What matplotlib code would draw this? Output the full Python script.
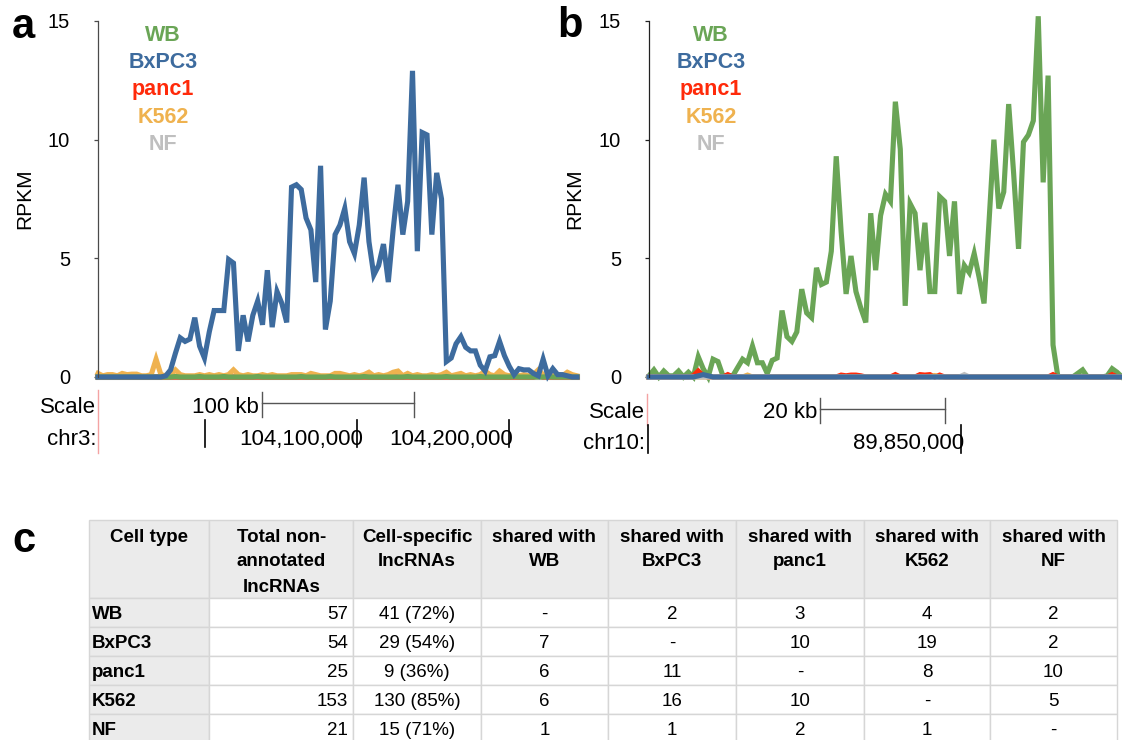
import matplotlib
matplotlib.use("Agg")
import matplotlib.pyplot as plt
from matplotlib.patches import Rectangle

plt.rcParams['font.family'] = ['Liberation Sans', 'DejaVu Sans']

W, H = 1122, 740

cell_lines = ['WB', 'BxPC3', 'panc1', 'K562', 'NF']
line_colors = {'WB': '#6aa556', 'BxPC3': '#3d6b9e', 'panc1': '#ff2a0a',
               'K562': '#efb24f', 'NF': '#bfbfbf'}
yticks = [0, 5, 10, 15]

# panel a: chr3 locus, RPKM per bin
bxpc3_a = [0, 0, 0, 0, 0, 0, 0, 0, 0, 0,
           0, 0, 0, 0, 0.05, 0.3, 1.0, 1.65, 1.5, 1.6,
           2.5, 1.3, 0.8, 1.9, 2.8, 2.8, 2.8, 4.95, 4.8, 1.1,
           2.6, 1.5, 2.6, 3.2, 2.2, 4.5, 2.1, 3.6, 3.1, 2.3,
           8.0, 8.1, 7.9, 6.7, 6.2, 4.0, 8.9, 2.0, 3.2, 6.0,
           6.4, 7.1, 5.7, 5.2, 6.4, 8.4, 5.7, 4.3, 4.7, 5.6,
           4.0, 6.2, 8.1, 6.0, 7.4, 12.9, 5.3, 10.3, 10.2, 6.0,
           8.6, 7.5, 0.65, 0.8, 1.4, 1.7, 1.25, 1.1, 1.1, 0.5,
           0.25, 0.85, 0.9, 1.5, 0.9, 0.45, 0.1, 0.35, 0.3, 0.3,
           0.15, 0.05, 0.75, 0.05, 0.35, 0.1, 0.1, 0.05, 0.0, 0.0]
k562_a = [0.15, 0.05, 0.1, 0.1, 0.05, 0.15, 0.1, 0.12, 0.12, 0.05,
          0.05, 0.1, 0.75, 0.1, 0.05, 0.1, 0.3, 0.1, 0.05, 0.05,
          0.05, 0.1, 0.05, 0.1, 0.05, 0.1, 0.05, 0.1, 0.3, 0.1,
          0.05, 0.1, 0.05, 0.05, 0.1, 0.05, 0.1, 0.05, 0.05, 0.05,
          0.1, 0.1, 0.1, 0.05, 0.15, 0.1, 0.05, 0.05, 0.05, 0.15,
          0.15, 0.1, 0.05, 0.1, 0.05, 0.1, 0.2, 0.05, 0.1, 0.05,
          0.1, 0.2, 0.25, 0.05, 0.15, 0.05, 0.1, 0.05, 0.05, 0.1,
          0.05, 0.1, 0.2, 0.05, 0.1, 0.15, 0.05, 0.1, 0.05, 0.1,
          0.25, 0.1, 0.05, 0.25, 0.1, 0.05, 0.1, 0.05, 0.1, 0.05,
          0.1, 0.3, 0.1, 0.05, 0.05, 0.1, 0.05, 0.2, 0.1, 0.05]
wb_a = [0, 0, 0, 0, 0, 0, 0, 0, 0, 0,
        0, 0, 0, 0, 0, 0, 0.02, 0, 0, 0,
        0, 0.02, 0, 0, 0, 0, 0.02, 0, 0, 0,
        0, 0, 0, 0.02, 0, 0, 0, 0, 0, 0,
        0, 0, 0.02, 0, 0, 0, 0, 0, 0.02, 0,
        0, 0, 0, 0, 0, 0.02, 0, 0, 0, 0,
        0, 0, 0, 0, 0.02, 0, 0, 0, 0, 0,
        0, 0, 0.02, 0, 0, 0, 0, 0, 0, 0.02,
        0, 0, 0, 0, 0, 0, 0.02, 0, 0, 0,
        0, 0, 0, 0.02, 0, 0, 0, 0, 0, 0]
panc1_a = [0, 0, 0, 0, 0, 0, 0, 0, 0, 0,
           0, 0, 0, 0, 0, 0, 0, 0, 0, 0,
           0, 0, 0, 0, 0, 0, 0, 0, 0, 0,
           0, 0, 0, 0, 0, 0, 0, 0, 0, 0,
           0, 0, 0, 0, 0, 0, 0, 0, 0, 0,
           0, 0, 0, 0, 0, 0, 0, 0, 0, 0,
           0, 0, 0, 0, 0, 0, 0, 0, 0, 0,
           0, 0, 0, 0, 0, 0, 0, 0, 0, 0,
           0, 0, 0, 0, 0, 0, 0, 0, 0, 0,
           0, 0.05, 0, 0, 0, 0, 0, 0, 0, 0]
nf_a = [0, 0, 0, 0, 0, 0, 0, 0, 0, 0,
        0, 0, 0, 0, 0, 0, 0, 0, 0, 0,
        0, 0, 0, 0, 0, 0, 0, 0, 0, 0,
        0, 0, 0, 0, 0, 0, 0, 0, 0, 0,
        0, 0, 0, 0, 0, 0, 0, 0, 0, 0,
        0, 0, 0, 0, 0, 0, 0, 0, 0, 0,
        0, 0, 0, 0, 0, 0, 0, 0, 0, 0,
        0, 0, 0, 0, 0, 0, 0, 0, 0, 0,
        0, 0, 0, 0, 0, 0, 0, 0, 0, 0,
        0, 0, 0, 0, 0, 0, 0, 0, 0, 0]

# panel b: chr10 locus
wb_b = [0.05, 0.3, 0.0, 0.25, 0.05, 0.05, 0.25, 0.0, 0.2, 0.0,
        0.85, 0.35, 0.0, 0.75, 0.65, 0.05, 0.05, 0.05, 0.4, 0.75,
        0.6, 1.3, 0.6, 0.6, 0.15, 0.7, 0.8, 2.8, 1.7, 1.5,
        1.9, 3.7, 2.7, 2.5, 4.6, 3.9, 4.0, 5.3, 9.3, 6.1,
        3.5, 5.1, 3.6, 2.9, 2.3, 6.9, 4.5, 6.8, 7.7, 7.4,
        11.6, 9.6, 3.0, 7.3, 6.9, 4.5, 6.5, 3.6, 3.6, 7.6,
        7.4, 5.1, 7.4, 3.5, 4.7, 4.4, 5.2, 4.2, 3.1, 6.5,
        10.0, 7.1, 7.8, 11.5, 8.6, 5.4, 9.9, 10.2, 10.8, 15.2,
        8.2, 12.7, 1.35, 0.0, 0.0, 0.0, 0.0, 0.15, 0.3, 0.0,
        0.0, 0.0, 0.0, 0.05, 0.35, 0.2, 0.0]
panc1_b = [0, 0, 0, 0, 0, 0, 0, 0, 0, 0.05,
           0.25, 0.05, 0, 0, 0, 0, 0.1, 0, 0, 0,
           0, 0, 0, 0, 0, 0, 0, 0, 0, 0,
           0, 0, 0, 0, 0, 0, 0, 0, 0, 0.08,
           0.05, 0.08, 0.08, 0.05, 0, 0, 0, 0, 0, 0,
           0.1, 0, 0, 0, 0, 0.1, 0.08, 0.1, 0, 0.08,
           0, 0, 0, 0, 0, 0, 0, 0, 0, 0,
           0, 0, 0, 0, 0, 0, 0, 0, 0, 0,
           0, 0, 0.1, 0, 0, 0, 0, 0, 0, 0,
           0, 0, 0, 0, 0.1, 0, 0]
k562_b = [0, 0, 0, 0, 0, 0, 0, 0, 0, 0,
          0, 0, 0, 0, 0, 0, 0, 0, 0, 0,
          0.08, 0, 0, 0, 0, 0, 0, 0, 0, 0,
          0, 0, 0, 0, 0, 0, 0, 0, 0, 0,
          0, 0, 0, 0, 0, 0, 0, 0, 0, 0,
          0, 0, 0, 0, 0, 0, 0, 0, 0.06, 0,
          0, 0, 0, 0, 0, 0, 0, 0, 0, 0,
          0, 0, 0, 0, 0, 0, 0, 0, 0, 0,
          0, 0, 0, 0, 0, 0, 0, 0, 0, 0,
          0, 0, 0, 0, 0, 0, 0]
nf_b = [0, 0, 0, 0, 0, 0, 0, 0, 0, 0,
        0, 0, 0, 0, 0, 0, 0, 0, 0, 0,
        0, 0, 0, 0, 0, 0, 0, 0, 0, 0,
        0, 0, 0, 0, 0, 0, 0, 0, 0, 0,
        0, 0, 0, 0, 0, 0, 0, 0, 0, 0,
        0, 0, 0, 0, 0, 0, 0, 0, 0, 0,
        0, 0, 0, 0, 0.1, 0, 0, 0, 0, 0,
        0, 0, 0, 0, 0, 0, 0, 0, 0, 0,
        0, 0, 0, 0, 0, 0, 0, 0, 0, 0,
        0, 0, 0, 0, 0, 0, 0]
bxpc3_b = [0, 0, 0, 0, 0, 0, 0, 0, 0, 0,
           0.05, 0.1, 0.05, 0, 0, 0, 0, 0, 0, 0,
           0, 0, 0, 0, 0, 0, 0, 0, 0, 0,
           0, 0, 0, 0, 0, 0, 0, 0, 0, 0,
           0, 0, 0, 0, 0, 0, 0, 0, 0, 0,
           0, 0, 0, 0, 0, 0, 0, 0, 0, 0,
           0, 0, 0, 0, 0, 0, 0, 0, 0, 0,
           0, 0, 0, 0, 0, 0, 0, 0, 0, 0,
           0, 0, 0, 0, 0, 0, 0, 0, 0, 0,
           0, 0, 0, 0, 0, 0, 0]

# panel c: table
table_header = ['Cell type', 'Total non-\nannotated\nlncRNAs', 'Cell-specific\nlncRNAs',
                'shared with\nWB', 'shared with\nBxPC3', 'shared with\npanc1',
                'shared with\nK562', 'shared with\nNF']
table_rows = [
    ['WB', '57', '41 (72%)', '-', '2', '3', '4', '2'],
    ['BxPC3', '54', '29 (54%)', '7', '-', '10', '19', '2'],
    ['panc1', '25', '9 (36%)', '6', '11', '-', '8', '10'],
    ['K562', '153', '130 (85%)', '6', '16', '10', '-', '5'],
    ['NF', '21', '15 (71%)', '1', '1', '2', '1', '-'],
]


def box(x0, y0, x1, y1):
    return [x0 / W, 1 - y1 / H, (x1 - x0) / W, (y1 - y0) / H]


fig = plt.figure(figsize=(W / 100, H / 100), dpi=100)

# overlay in pixel coordinates for labels, scale bars and the table
ov = fig.add_axes([0, 0, 1, 1])
ov.set_xlim(0, W)
ov.set_ylim(H, 0)
ov.axis('off')

ax_a = fig.add_axes(box(98, 21, 577, 377))
ax_b = fig.add_axes(box(649, 21, 1122, 377))

series_a = [('NF', nf_a), ('panc1', panc1_a), ('K562', k562_a), ('WB', wb_a), ('BxPC3', bxpc3_a)]
series_b = [('WB', wb_b), ('panc1', panc1_b), ('K562', k562_b), ('NF', nf_b), ('BxPC3', bxpc3_b)]

for ax, series, spine_col in [(ax_a, series_a, '#4a4a4a'), (ax_b, series_b, '#222222')]:
    n = len(series[0][1])
    for name, vals in series:
        ax.plot(range(n), vals, color=line_colors[name], lw=3.7, clip_on=False,
                solid_joinstyle='miter')
    ax.set_xlim(0, n - 1)
    ax.set_ylim(0, 15)
    ax.set_yticks(yticks)
    ax.set_xticks([])
    for s in ['top', 'right', 'bottom']:
        ax.spines[s].set_visible(False)
    ax.spines['left'].set_color(spine_col)
    ax.spines['left'].set_linewidth(0.9)
    ax.tick_params(axis='y', length=3, width=0.9, pad=17, labelsize=14.5, color=spine_col)
    ax.patch.set_alpha(0)

# panel letters
ov.text(12, 38, 'a', fontsize=30, fontweight='bold', ha='left', va='baseline')
ov.text(557, 37, 'b', fontsize=30, fontweight='bold', ha='left', va='baseline')
ov.text(12, 552, 'c', fontsize=30, fontweight='bold', ha='left', va='baseline')

# RPKM labels and colour keys
for xl, xk in [(25, 163), (575, 711)]:
    ov.text(xl, 199, 'RPKM', rotation=90, fontsize=15, ha='center', va='center')
    for i, name in enumerate(cell_lines):
        ov.text(xk, 41 + 27.2 * i, name, color=line_colors[name], fontsize=15.5,
                fontweight='bold', ha='center', va='baseline')


def scale_track(x_axis, pink_top, pink_bot, y_bar, bar_x, bar_label, y_scale,
                chrom, y_chr, tick_x, tick_top, tick_bot, tick_labels):
    ov.plot([x_axis, x_axis], [pink_top, pink_bot], color='#f4a3a3', lw=1)
    ov.text(x_axis - 2, y_scale, 'Scale', fontsize=16, ha='right', va='baseline')
    ov.plot(bar_x, [y_bar, y_bar], color='#555555', lw=1)
    for bx in bar_x:
        ov.plot([bx, bx], [y_bar - 11, y_bar + 14], color='#555555', lw=1)
    ov.text(bar_x[0] - 3, y_scale, bar_label, fontsize=16, ha='right', va='baseline')
    ov.text(x_axis - 1.5, y_chr, chrom, fontsize=16, ha='right', va='baseline')
    for tx in tick_x:
        ov.plot([tx, tx], [tick_top, tick_bot], color='black', lw=1.2)
    for tx, lab in tick_labels:
        ov.text(tx, y_chr, lab, fontsize=16, ha='right', va='baseline')


scale_track(98.3, 390, 453, 403, [262, 414], '100 kb', 413,
            'chr3:', 445, [205, 356.7, 509], 420, 447,
            [(363, '104,100,000'), (513, '104,200,000')])
scale_track(647, 394, 425, 409, [820, 945], '20 kb', 418,
            'chr10:', 449, [648, 961], 425, 453,
            [(964, '89,850,000')])

# table
col_edges = [89, 209.5, 353.3, 480.7, 608, 736, 864, 990, 1117]
row_edges = [520, 598.3, 627.3, 656, 685, 714, 743]
grid_col = '#d6d6d6'
head_bg = '#ebebeb'

for r in range(len(row_edges) - 1):
    for c in range(len(col_edges) - 1):
        fc = head_bg if (r == 0 or c == 0) else 'white'
        ov.add_patch(Rectangle((col_edges[c], row_edges[r]),
                               col_edges[c + 1] - col_edges[c],
                               row_edges[r + 1] - row_edges[r],
                               facecolor=fc, edgecolor=grid_col, lw=1, clip_on=False))

for c, head in enumerate(table_header):
    xc = (col_edges[c] + col_edges[c + 1]) / 2
    for k, line in enumerate(head.split('\n')):
        ov.text(xc, 541.5 + 25 * k, line, fontsize=13.5, fontweight='bold',
                ha='center', va='baseline')

for r, row in enumerate(table_rows):
    yb = (row_edges[r + 1] + row_edges[r + 2]) / 2 + 6.5
    for c, val in enumerate(row):
        if c == 0:
            ov.text(col_edges[0] + 3, yb, val, fontsize=13.5, fontweight='bold',
                    ha='left', va='baseline')
        elif c == 1:
            ov.text(col_edges[2] - 5, yb, val, fontsize=13.5, ha='right', va='baseline')
        else:
            xc = (col_edges[c] + col_edges[c + 1]) / 2
            ov.text(xc, yb, val, fontsize=13.5, ha='center', va='baseline')

fig.savefig('out.png', dpi=100)
